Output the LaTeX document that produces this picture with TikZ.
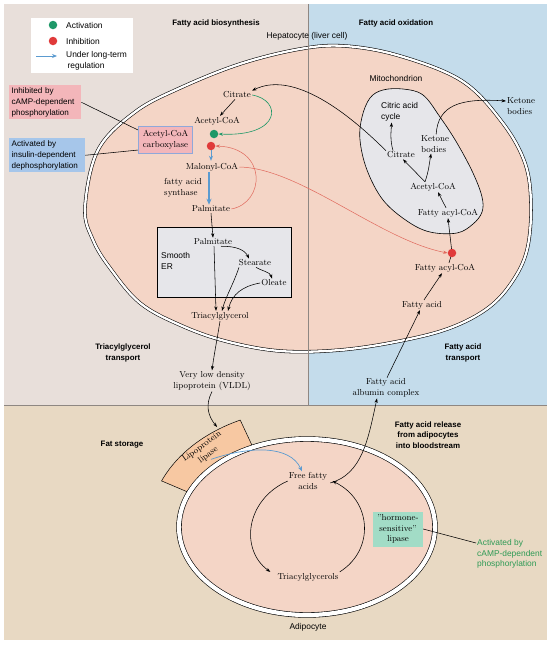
\documentclass[tikz,border=0pt]{standalone}
\usepackage{fontspec}
\setsansfont{Liberation Sans}
\usetikzlibrary{arrows.meta,calc}
\definecolor{bgL}{HTML}{E8DFDA}
\definecolor{bgR}{HTML}{C4DCEB}
\definecolor{bgB}{HTML}{E8D9C3}
\definecolor{cellc}{HTML}{F4D5C6}
\definecolor{orgc}{HTML}{E6E6EA}
\definecolor{divc}{HTML}{8E8782}
\definecolor{actg}{HTML}{1E9868}
\definecolor{inhr}{HTML}{E03A3A}
\definecolor{redln}{HTML}{E0685C}
\definecolor{bluea}{HTML}{5B9BD0}
\definecolor{pinkb}{HTML}{F3B6BA}
\definecolor{blueb}{HTML}{A6C6EA}
\definecolor{greenb}{HTML}{A2DCC6}
\definecolor{lipb}{HTML}{F7C8A2}
\definecolor{greent}{HTML}{2E9A55}
\definecolor{carbb}{HTML}{8FA8DA}
\begin{document}
\begin{tikzpicture}[x=1pt,y=-1pt,
  serif/.style={font=\fontsize{8.7}{10.6}\selectfont, inner sep=1pt, align=center},
  sans/.style={font=\sffamily\fontsize{8.4}{10.8}\selectfont, inner sep=1pt, align=center},
  ttl/.style={font=\sffamily\bfseries\fontsize{7.9}{10.4}\selectfont, inner sep=1pt, align=center},
  callout/.style={font=\sffamily\fontsize{8.1}{10.8}\selectfont, align=left, inner sep=2.5pt, anchor=north west},
  arr/.style={-{Stealth[length=4.5pt,width=3.2pt]}, line width=0.55pt, draw=black},
  redarr/.style={-{Stealth[length=4.5pt,width=3.2pt]}, line width=0.5pt, draw=redln},
  greenarr/.style={-{Stealth[length=4.5pt,width=3.2pt]}, line width=0.6pt, draw=actg},
  bluearr/.style={-{Stealth[length=5pt,width=4pt]}, line width=0.9pt, draw=bluea},
  thickblue/.style={-{Stealth[length=6pt,width=5pt]}, line width=2pt, draw=bluea},
  plain/.style={line width=0.55pt, draw=black},
  dotn/.style={circle, inner sep=0pt, minimum size=8.5pt},
  membraneA/.style={draw=black, line width=0.55pt, double=white, double distance=2.3pt},
  membraneB/.style={draw=black, line width=0.6pt, double=white, double distance=4.2pt},
  organelle/.style={draw=black, line width=0.6pt, fill=orgc}
]
\useasboundingbox (0,0) rectangle (551,645);
% backgrounds
\fill[white] (0,0) rectangle (551,645);
\fill[bgL] (4,4) rectangle (308,405);
\fill[bgR] (308,4) rectangle (547,405);
\fill[bgB] (4,405) rectangle (547,640);

% hepatocyte
\draw[membraneA, fill=cellc] plot[smooth cycle, tension=0.6] coordinates {
 (85,208) (98,150) (135,112) (180,88) (240,64) (300,49) (345,46) (400,56)
 (462,81) (502,122) (525,163) (531,205) (527,250) (512,282) (488,308)
 (450,328) (400,341) (340,350) (280,351) (225,341) (180,325) (140,303)
 (110,268) (93,240)};
\draw[divc, line width=0.9pt] (308,4) -- (308,405);
\draw[divc, line width=0.9pt] (4,405) -- (547,405);

% mitochondrion
\draw[organelle] plot[smooth cycle, tension=0.6] coordinates {
 (383,90) (403,89) (423,95) (440,117) (457,143) (473,173) (482,197)
 (482,212) (473,224) (457,233) (430,232) (407,221) (383,200) (367,170)
 (360,140) (362,117) (370,98)};

% legend
\node[fill=white, minimum width=102, minimum height=55, inner sep=0pt, anchor=north west] (legend) at (31,18) {};
\node[dotn, fill=actg] (lgA) at (53,25) {};
\node[sans, anchor=west] (lgAt) at (65,25) {Activation};
\node[dotn, fill=inhr] (lgI) at (53,41) {};
\node[sans, anchor=west] (lgIt) at (65,41) {Inhibition};
\coordinate (lgB1) at (36,56);
\coordinate (lgB2) at (57,56);
\draw[bluearr] (lgB1) -- (lgB2);
\node[sans, anchor=north west, align=left] (lgBt) at (65,50) {Under long-term\\\hspace{1.5pt}regulation};

% titles
\node[ttl] (tFAB) at (216,23) {Fatty acid biosynthesis};
\node[ttl] (tFAO) at (396,23) {Fatty acid oxidation};
\node[sans] (hep) at (307,36) {Hepatocyte (liver cell)};
\node[ttl] (tgt) at (123,353) {Triacylglycerol\\transport};
\node[ttl] (fat) at (463,353) {Fatty acid\\transport};
\node[ttl] (fst) at (122,445) {Fat storage};
\node[ttl] (far) at (428,435) {Fatty acid release\\from adipocytes\\into bloodstream};

% callouts
\node[callout, fill=pinkb, text width=67pt] (inhBox) at (9,85) {Inhibited by\\cAMP-dependent\\phosphorylation};
\node[callout, fill=blueb, text width=71pt] (actBox) at (9,138) {Activated by\\insulin-dependent\\dephosphorylation};
\node[serif, fill=pinkb, draw=carbb, line width=1.3pt, minimum width=54, minimum height=27] (acc) at (165.5,140) {Acetyl-CoA\\carboxylase};
\draw[plain] (inhBox.east) -- (acc.160);
\draw[plain] (actBox.east) -- (acc.200);

% cytosol of hepatocyte
\node[serif] (cCit) at (237,95) {Citrate};
\node[serif] (cAc) at (217,121) {Acetyl-CoA};
\node[dotn, fill=actg] (gd) at (214,134) {};
\node[dotn, fill=inhr] (rd) at (211,146) {};
\node[serif] (mal) at (212,167) {Malonyl-CoA};
\node[serif, align=left] (fas) at (183,188) {fatty acid\\synthase};
\node[serif] (palm) at (211,209) {Palmitate};

\draw[arr] ([xshift=-2pt]cCit.south) -- ([xshift=3pt]cAc.north);
\draw[greenarr] (cCit.east) .. controls (282,100) and (282,137) .. (gd.east);
\draw[bluearr, shorten >=1pt] (rd.south) -- ([xshift=-1pt]mal.north);
\draw[thickblue] ([xshift=-3pt]mal.south) -- ([xshift=-2pt]palm.north);
\draw[redarr] (palm.east) .. controls (265,203) and (268,148) .. (rd.east);

% smooth ER
\node[organelle, minimum width=134, minimum height=70, inner sep=0pt] (er) at (224,262) {};
\node[serif] (erPalm) at (213,242) {Palmitate};
\node[sans, align=left, anchor=west] (erLbl) at (160,261) {Smooth\\ER};
\node[serif] (stear) at (255,263) {Stearate};
\node[serif] (olea) at (274,283) {Oleate};
\node[serif] (tag) at (220,316) {Triacylglycerol};

\draw[arr] (palm.south) -- (erPalm.north);
\draw[arr] ([xshift=8pt]erPalm.south) .. controls (236,246) and (245,250) .. ([xshift=-6pt]stear.north);
\draw[arr] ([xshift=1pt]stear.south) .. controls (262,271) and (270,272) .. ([xshift=-2pt]olea.north);
\draw[arr] ([xshift=1pt]erPalm.south) -- ([xshift=-4pt]tag.north);
\draw[arr] ([xshift=-16pt]stear.south) .. controls (233,285) and (226,296) .. ([xshift=2pt]tag.north);
\draw[arr] (olea.west) .. controls (243,286) and (232,294) .. ([xshift=8pt]tag.north);

\node[serif] (vldl) at (212,381) {Very low density\\lipoprotein (VLDL)};
\draw[arr] (tag.south) .. controls (217,340) and (214,355) .. (vldl.north);

% mitochondrion contents
\node[sans] (mitoLbl) at (396,78) {Mitochondrion};
\node[sans, align=left, anchor=west] (cac) at (380,112) {Citric acid\\cycle};
\node[serif, align=left, anchor=west] (mkb) at (420,144) {Ketone\\bodies};
\node[serif] (mcit) at (401,155) {Citrate};
\node[serif] (mac) at (433,187) {Acetyl-CoA};
\node[serif] (mfa) at (448,213) {Fatty acyl-CoA};
\node[serif, align=left, anchor=west] (kbo) at (506,106) {Ketone\\bodies};

\draw[arr] ([xshift=-2pt]mfa.north) -- ([xshift=5pt]mac.south);
\draw[arr] ([xshift=-8pt]mac.north) -- ([xshift=2pt]mcit.south);
\draw[arr] ([xshift=-8pt]mac.north) .. controls (429,170) and (429,165) .. ([xshift=-4pt]mkb.south);
\draw[arr] ([xshift=-8pt]mcit.north) .. controls (390,140) and (391,132) .. ([xshift=-8pt]cac.south);
\draw[arr] (mcit.north west) .. controls (340,105) and (290,72) .. (cCit.north east);
\draw[arr] ([xshift=1pt]mkb.north) .. controls (438,105) and (460,98) .. ([yshift=5pt]kbo.west);

% fatty acid entry
\node[serif] (cfa) at (445,268) {Fatty acyl-CoA};
\node[serif] (fa) at (422,305) {Fatty acid};
\node[serif] (alb) at (386,388) {Fatty acid\\albumin complex};
\coordinate (rd2c) at (452,253);
\draw[arr] ([xshift=4pt]cfa.north) -- (rd2c) -- (mfa.south);
\node[dotn, fill=inhr] (rd2) at (rd2c) {};
\draw[redarr] (mal.east) .. controls (300,168) and (380,240) .. (rd2.west);
\draw[arr] ([xshift=1pt]alb.north) -- ([xshift=-2pt]fa.south);
\draw[arr] ([xshift=2pt]fa.north) -- ([xshift=-3pt]cfa.south);

% adipocyte
\fill[lipb, draw=black, line width=0.5pt]
  plot[domain=203:245, samples=25] ({307+158*cos(\x)},{527+118*sin(\x)})
  -- plot[domain=245:203, samples=25] ({307+128*cos(\x)},{527+88*sin(\x)}) -- cycle;
\draw[membraneB, fill=cellc] (307,527) ellipse [x radius=128, y radius=88];
\node[serif, rotate=36] (lpl) at (205,451) {Lipoprotein\\lipase};
\draw[arr, shorten >=2pt] (vldl.south) .. controls (205,405) and (208,416) .. (lpl.north east);

\node[serif] (ffa) at (308,481) {Free fatty\\acids};
\node[serif] (tags) at (308,577) {Triacylglycerols};
\node[sans] (adLbl) at (308,627) {Adipocyte};
\node[serif, fill=greenb, minimum width=50, minimum height=35, inner sep=2pt] (hsl) at (398,529) {"hormone-\\sensitive"\\lipase};
\node[sans, text=greent, align=left, anchor=north west] (gtxt) at (476,538) {Activated by\\cAMP-dependent\\phosphorylation};
\draw[plain] (hsl.east) -- ([yshift=-5pt]gtxt.north west);

\draw[bluearr, line width=0.7pt] (lpl.south) .. controls (250,446) and (290,445) .. ([xshift=-6pt]ffa.north);
\draw[arr] (ffa.west) .. controls (245,500) and (240,550) .. ([xshift=-6pt]tags.north west);
\draw[arr] (tags.north east) .. controls (375,550) and (372,500) .. ([xshift=4pt]ffa.east);
\draw[arr] ([xshift=2pt,yshift=-2pt]ffa.east) .. controls (362,474) and (368,440) .. ([xshift=-9pt]alb.south);
\end{tikzpicture}
\end{document}
